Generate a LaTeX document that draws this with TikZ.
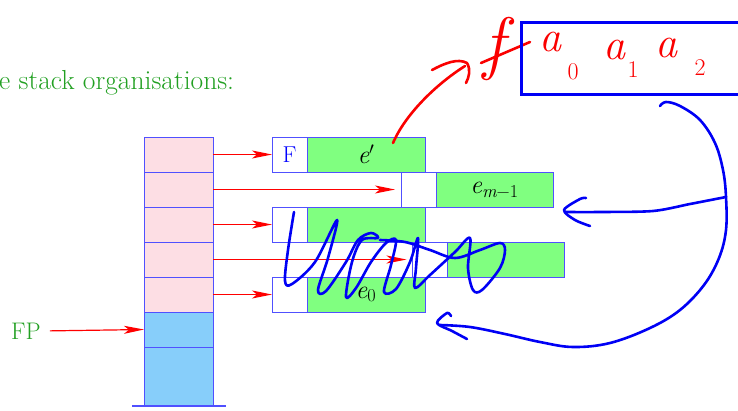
\documentclass[tikz,border=0pt]{standalone}
\usetikzlibrary{arrows.meta}
\definecolor{pinkfill}{RGB}{253,222,228}
\definecolor{bluefill}{RGB}{135,206,250}
\definecolor{greenfill}{RGB}{128,255,128}
\definecolor{boxline}{RGB}{80,80,255}
\definecolor{titlegreen}{RGB}{34,160,34}
\definecolor{bluepen}{RGB}{0,0,245}
\definecolor{redpen}{RGB}{250,0,0}
\begin{document}
\begin{tikzpicture}[x=1pt,y=-1pt,
  cell/.style={draw=boxline,line width=1pt,minimum width=69pt,minimum height=35pt,inner sep=0pt,outer sep=0pt},
  tag/.style={draw=boxline,fill=white,line width=1pt,minimum width=35pt,minimum height=35pt,inner sep=0pt,outer sep=0pt,font=\fontsize{23}{26}\selectfont,text=blue},
  val/.style={draw=boxline,fill=greenfill,line width=1pt,minimum width=118pt,minimum height=35pt,inner sep=0pt,outer sep=0pt,font=\fontsize{26}{30}\selectfont},
  ptr/.style={draw=red,line width=1.2pt,-{Stealth[length=20pt,width=8pt,inset=5pt]}},
  hand/.style={line width=2.6pt,line cap=round,line join=round},
  redtext/.style={text=redpen,inner sep=0pt}
]
\useasboundingbox (0,0) rectangle (738,410);
\clip (0,0) rectangle (738,410);

% title
\node[anchor=base west,inner sep=0pt,text=titlegreen,font=\fontsize{27.5}{31}\selectfont] (title) at (-1,89) {e stack organisations:};

% stack
\node[cell,fill=pinkfill] (s1) at (178.5,154.5) {};
\node[cell,fill=pinkfill] (s2) at (178.5,189.5) {};
\node[cell,fill=pinkfill] (s3) at (178.5,224.5) {};
\node[cell,fill=pinkfill] (s4) at (178.5,259.5) {};
\node[cell,fill=pinkfill] (s5) at (178.5,294.5) {};
\node[cell,fill=bluefill] (s6) at (178.5,329.5) {};
\node[cell,fill=bluefill,minimum height=59pt] (s7) at (178.5,376.5) {};
\coordinate (bl) at (132,406);
\coordinate (br) at (226,406);
\draw[boxline,line width=1.2pt] (bl) -- (br);

% records
\node[tag] (t1) at (289.5,154.5) {F};
\node[val] (g1) at (366,154.5) {{\itshape e}$'$};
\node[tag] (t2) at (418.5,189.5) {};
\node[val,minimum width=117pt] (g2) at (494.5,189.5) {{\itshape e}\textsubscript{{\itshape m}−1}};
\node[tag] (t3) at (289.5,224.5) {};
\node[val] (g3) at (366,224.5) {};
\node[tag] (t4) at (430,259.5) {};
\node[val,minimum width=117pt] (g4) at (506,259.5) {};
\node[tag] (t5) at (289.5,294.5) {};
\node[val] (g5) at (366,294.5) {{\itshape e}\textsubscript{0}};

% pointers
\draw[ptr] (s1.east) -- (t1.west);
\draw[ptr,shorten >=6pt] (s2.east) -- (t2.west);
\draw[ptr] (s3.east) -- (t3.west);
\draw[ptr,shorten >=6pt] (s4.east) -- (t4.west);
\draw[ptr] (s5.east) -- (t5.west);

% FP
\node[text=titlegreen,font=\fontsize{24}{28}\selectfont,inner sep=0pt] (fp) at (26,331) {FP};
\draw[ptr,shorten <=9pt] (fp.east) -- (s6.west);

% handwritten annotations: red
\coordinate (rs) at (393,143);
\coordinate (re) at (465,66);
\draw[redpen,hand] (rs) .. controls (405,115) and (435,85) .. (re);
\draw[redpen,hand] (432,70) .. controls (445,63) and (458,58) .. (467,63) .. controls (471,70) and (469,77) .. (466,83);
\node[redtext] (f) at (494,49) {\fontsize{70}{80}\selectfont\itshape f};
\draw[redpen,hand] (481,63) -- (530,42);
\node[redtext] (a0) at (550,42) {\fontsize{44}{48}\selectfont\itshape a};
\node[redtext] (n0) at (573,72) {\fontsize{24}{28}\selectfont 0};
\node[redtext] (a1) at (614,50) {\fontsize{44}{48}\selectfont\itshape a};
\node[redtext] (n1) at (633,70) {\fontsize{24}{28}\selectfont 1};
\node[redtext] (a2) at (666,48) {\fontsize{44}{48}\selectfont\itshape a};
\node[redtext] (n2) at (700,68) {\fontsize{24}{28}\selectfont 2};

% blue box
\draw[bluepen,line width=3pt] (745,22) -- (521.5,22) -- (521.5,94) -- (745,94);

% blue curves
\draw[bluepen,hand] plot[smooth,tension=0.6] coordinates {(660,106) (666,102) (680,106) (700,120) (715,143) (723,170) (726,197) (726,230) (719,258) (704,285) (680,310) (650,328) (610,343) (573,347) (540,342) (505,334) (470,327) (440,325)};
\draw[bluepen,hand] plot[smooth,tension=0.5] coordinates {(451,316) (447,313) (437,323) (452,331) (467,339)};
\draw[bluepen,hand] plot[smooth,tension=0.5] coordinates {(726,197) (690,204) (653,211) (600,212) (565,212)};
\draw[bluepen,hand] plot[smooth,tension=0.5] coordinates {(586,198) (580,199) (564,210) (575,220) (590,226)};

% blue scribble
\draw[bluepen,hand] plot[smooth,tension=0.55] coordinates {(294,212) (288,250) (285,281) (292,284) (315,262) (337,220) (328,258) (318,290) (326,291) (346,262) (358,240) (371,233) (378,238) (362,240) (352,262) (346,297) (356,288) (371,262) (386,243) (396,240) (391,265) (384,292) (396,289) (410,262) (418,238) (416,268) (415,288) (430,275) (455,252) (470,238) (468,268) (473,290) (482,290) (500,268) (505,250) (500,243) (480,250) (455,258) (430,250) (405,242) (380,240)};
\end{tikzpicture}
\end{document}
